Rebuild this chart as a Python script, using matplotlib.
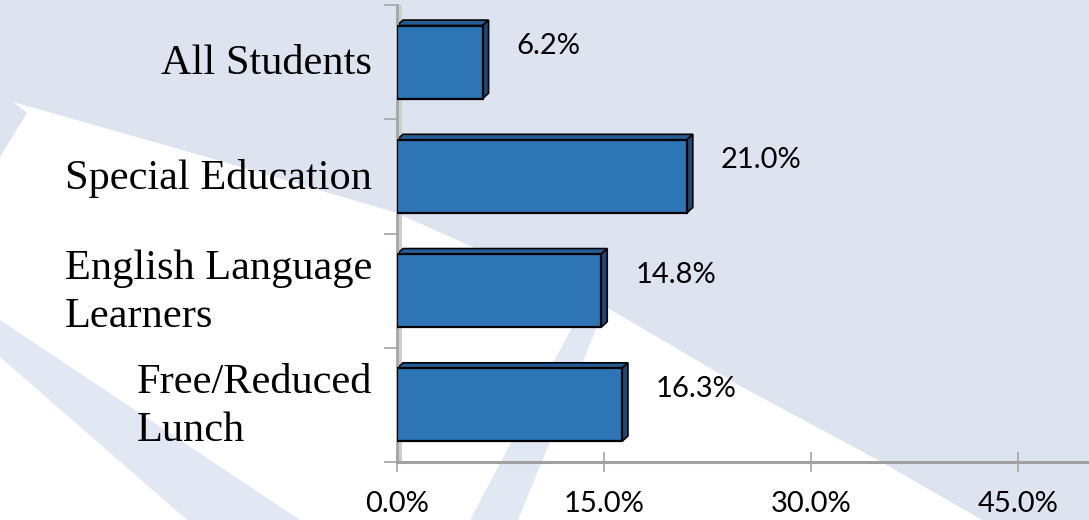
import matplotlib.pyplot as plt
from matplotlib.patches import Polygon, Rectangle

categories = ['All Students', 'Special Education', 'English Language\nLearners', 'Free/Reduced\nLunch']
values = [6.2, 21.0, 14.8, 16.3]
xticks = [0, 15, 30, 45]

W, H = 1089, 520
fig = plt.figure(figsize=(W / 100, H / 100), dpi=100)
fig.patch.set_facecolor('#DDE4F0')

# decorative background (pixel coords, y down)
bg = fig.add_axes([0, 0, 1, 1], zorder=-5)
bg.set_xlim(0, W)
bg.set_ylim(H, 0)
bg.axis('off')
swoosh = [(13, 102), (200, 155), (397, 213), (606, 307), (742, 387), (878, 460),
          (982, 520), (0, 520), (0, 157), (27, 113)]
bg.add_patch(Polygon(swoosh, closed=True, facecolor='white', edgecolor='none'))
bg.add_patch(Polygon([(0, 320), (300, 520), (187, 520), (0, 357)], closed=True,
                     facecolor='#E2E8F3', edgecolor='none'))
bg.add_patch(Polygon([(470, 520), (518, 520), (606, 305), (578, 316)], closed=True,
                     facecolor='#E2E8F3', edgecolor='none'))

# plot area
x0, y_axis, y_top = 397, 462, 5
ax = fig.add_axes([x0 / W, (H - y_axis) / H, (W - x0) / W, (y_axis - y_top) / H])
ax.set_facecolor('none')
px_per_unit = 13.8
ax.set_xlim(0, (W - x0) / px_per_unit)
ax.set_ylim(len(categories) - 0.5, -0.5)

# grey wall next to the y axis
ax.add_patch(Rectangle((0, -0.5), 5 / px_per_unit, len(categories), facecolor='#CFCFCF',
                       edgecolor='none', zorder=1))

bar_h = 0.64
dx = 6 / px_per_unit
dy = 5.5 / ((y_axis - y_top) / len(categories))
front = '#2E75B6'
top_c = '#245D94'
side_c = '#1C4A78'
for i, v in enumerate(values):
    yt = i - bar_h / 2
    yb = i + bar_h / 2
    ax.add_patch(Polygon([(0, yt), (v, yt), (v + dx, yt - dy), (dx, yt - dy)], closed=True,
                         facecolor=top_c, edgecolor='black', linewidth=1.2, zorder=2))
    ax.add_patch(Polygon([(v, yt), (v + dx, yt - dy), (v + dx, yb - dy), (v, yb)], closed=True,
                         facecolor=side_c, edgecolor='black', linewidth=1.2, zorder=2))
ax.barh(range(len(values)), values, height=bar_h, color=front, edgecolor='black',
        linewidth=1.6, zorder=3)

for i, v in enumerate(values):
    ax.annotate(f'{v:.1f}%', xy=(v, i), xytext=(34, 16), textcoords='offset pixels',
                ha='left', va='center', fontsize=21, family='Lato', color='black')
    ax.annotate(categories[i], xy=(0, i), xycoords=('axes fraction', 'data'),
                xytext=(-25, -2), textcoords='offset pixels', ha='right', va='center',
                multialignment='left', linespacing=1.3, fontsize=30.5,
                family='Liberation Serif', color='black')

for s in ['top', 'right']:
    ax.spines[s].set_visible(False)
ax.spines['left'].set_color('#A6A6A6')
ax.spines['left'].set_linewidth(2)
ax.spines['bottom'].set_color('#A0A0A0')
ax.spines['bottom'].set_linewidth(2.2)

ax.set_xticks(xticks)
ax.set_xticklabels([f'{t:.1f}%' for t in xticks], fontsize=21, family='Lato')
ax.tick_params(axis='x', direction='inout', length=14.4, width=1.2, color='#A6A6A6', pad=14)
ax.set_yticks([k - 0.5 for k in range(len(categories) + 1)])
ax.set_yticklabels([])
ax.tick_params(axis='y', direction='out', length=9.4, width=1.2, color='#A6A6A6')

fig.savefig('out.png', dpi=100, facecolor=fig.get_facecolor())
